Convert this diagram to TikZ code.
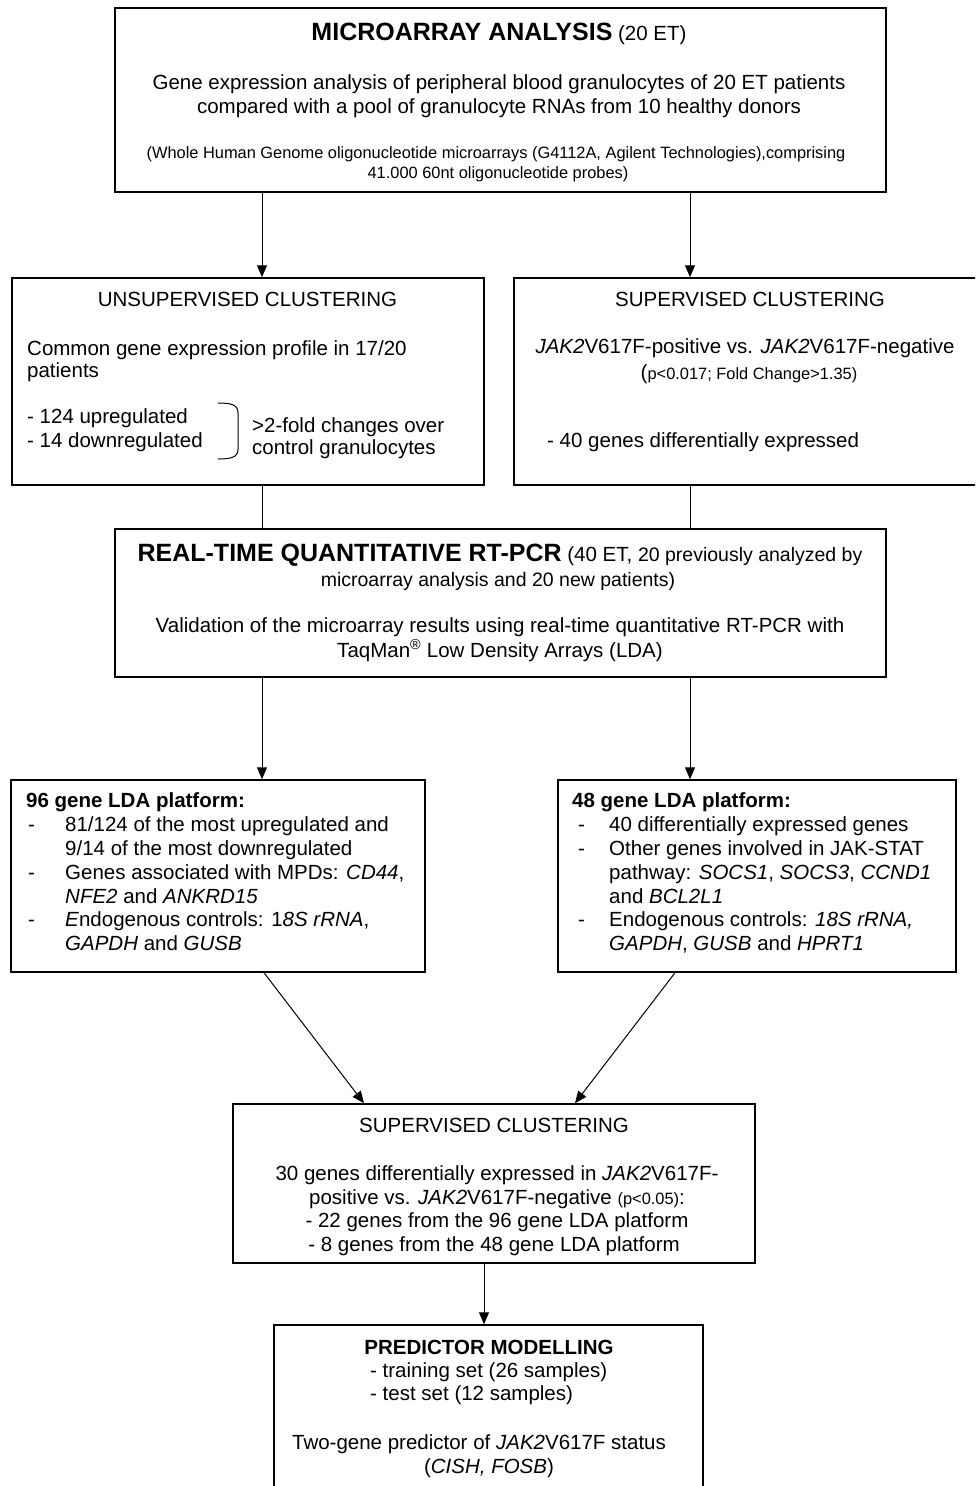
\documentclass[tikz,border=0pt]{standalone}
\usepackage{fontspec}
\setmainfont{Liberation Sans}
\usetikzlibrary{arrows.meta}
\newcommand{\fsbody}{\fontsize{20.5}{24}\selectfont}
\newcommand{\fsbig}{\fontsize{25}{28}\selectfont\bfseries}
\newcommand{\fssmall}{\fontsize{16.4}{19}\selectfont}
\newcommand{\fsmid}{\fontsize{19.5}{23}\selectfont}
\tikzset{
  box/.style={draw, line width=1.5pt, inner sep=0pt, fill=white},
  conn/.style={line width=1pt},
  arr/.style={line width=1pt, -{Triangle[length=12pt,width=10pt]}},
  tc/.style={inner sep=0pt, anchor=mid, font=\fsbody, yshift=-4.5pt},
  tl/.style={inner sep=0pt, anchor=mid west, font=\fsbody, yshift=-4.5pt},
}
\begin{document}
\begin{tikzpicture}[x=1pt,y=-1pt]
\useasboundingbox (0,0) rectangle (975,1486);
\clip (0,0) rectangle (975,1486);
\fill[white] (0,0) rectangle (975,1486);

% boxes
\node[box, minimum width=771pt, minimum height=184pt] (top) at (500.5,100) {};
\node[box, minimum width=472pt, minimum height=207pt] (unsup) at (248,381.5) {};
\node[box, minimum width=476pt, minimum height=207pt] (sup) at (752,381.5) {};
\node[box, minimum width=771pt, minimum height=148pt] (rt) at (500.5,603) {};
\node[box, minimum width=414pt, minimum height=192pt] (lda96) at (218,876) {};
\node[box, minimum width=398pt, minimum height=192pt] (lda48) at (757,876) {};
\node[box, minimum width=522pt, minimum height=159pt] (sup2) at (494,1183.5) {};
\node[box, minimum width=429pt, minimum height=180pt] (pred) at (488.5,1415) {};

% connector positions
\coordinate (xl) at (262,0);
\coordinate (xr) at (690,0);
\coordinate (d1) at (264,0);
\coordinate (d2) at (364,0);
\coordinate (d3) at (675,0);
\coordinate (d4) at (575,0);
\coordinate (xm) at (484,0);

\draw[arr] (top.south -| xl) -- (unsup.north -| xl);
\draw[arr] (top.south -| xr) -- (sup.north -| xr);
\draw[conn] (unsup.south -| xl) -- (rt.north -| xl);
\draw[conn] (sup.south -| xr) -- (rt.north -| xr);
\draw[arr] (rt.south -| xl) -- (lda96.north -| xl);
\draw[arr] (rt.south -| xr) -- (lda48.north -| xr);
\draw[arr] (lda96.south -| d1) -- (sup2.north -| d2);
\draw[arr] (lda48.south -| d3) -- (sup2.north -| d4);
\draw[arr] (sup2.south -| xm) -- (pred.north -| xm);

% top box text
\node[tc] (t1) at (499,33) {{\fsbig MICROARRAY ANALYSIS} (20 ET)};
\node[tc] (t2) at (499,82) {Gene expression analysis of peripheral blood granulocytes of 20 ET patients};
\node[tc] (t3) at (499,106) {compared with a pool of granulocyte RNAs from 10 healthy donors};
\node[tc, font=\fssmall] (t4) at (496,151) {(Whole Human Genome oligonucleotide microarrays (G4112A, Agilent Technologies),comprising};
\node[tc, font=\fssmall] (t5) at (498,171) {41.000 60nt oligonucleotide probes)};

% unsupervised
\node[tc] (u1) at (247.5,299) {UNSUPERVISED CLUSTERING};
\node[tl] (u2) at (27,348) {Common gene expression profile in 17/20};
\node[tl] (u3) at (27,370) {patients};
\node[tl] (u4) at (27,416) {- 124 upregulated};
\node[tl] (u5) at (27,440) {- 14 downregulated};
\draw[line width=1pt] (218,403) .. controls (232,403) and (238,405) .. (238,413) -- (238,449) .. controls (238,457) and (232,459) .. (218,459);
\node[tl] (u6) at (252,425) {>2-fold changes over};
\node[tl] (u7) at (252,447) {control granulocytes};

% supervised
\node[tc] (s1) at (750,299) {SUPERVISED CLUSTERING};
\node[tc] (s2) at (745,346) {\textit{JAK2}V617F-positive vs. \textit{JAK2}V617F-negative};
\node[tc] (s3) at (749,372) {({\fssmall p<0.017; Fold Change>1.35)}};
\node[tl] (s4) at (547,440) {- 40 genes differentially expressed};

% RT-PCR
\node[tc] (r1) at (500,554) {{\fsbig REAL-TIME QUANTITATIVE RT-PCR} (40 ET, {\fsmid 20 previously analyzed by}};
\node[tc, font=\fsmid] (r2) at (498,579) {microarray analysis and 20 new patients)};
\node[tc] (r3) at (500,625) {Validation of the microarray results using real-time quantitative RT-PCR with};
\node[tc] (r4) at (500,650) {TaqMan\textsuperscript{®} Low Density Arrays (LDA)};

% 96 gene
\node[tl] (a0) at (26,800) {\textbf{96 gene LDA platform:}};
\node[tl] (a1d) at (28,824) {-};
\node[tl] (a1) at (65,824) {81/124 of the most upregulated and};
\node[tl] (a2) at (65,848) {9/14 of the most downregulated};
\node[tl] (a3d) at (28,872) {-};
\node[tl] (a3) at (65,872) {Genes associated with MPDs: \textit{CD44},};
\node[tl] (a4) at (65,896) {\textit{NFE2} and \textit{ANKRD15}};
\node[tl] (a5d) at (28,919) {-};
\node[tl] (a5) at (65,919) {\textit{E}ndogenous controls: 1\textit{8S rRNA},};
\node[tl] (a6) at (65,943) {\textit{GAPDH} and \textit{GUSB}};

% 48 gene
\node[tl] (b0) at (572,800) {\textbf{48 gene LDA platform:}};
\node[tl] (b1d) at (578,824) {-};
\node[tl] (b1) at (609,824) {40 differentially expressed genes};
\node[tl] (b2d) at (578,848) {-};
\node[tl] (b2) at (609,848) {Other genes involved in JAK-STAT};
\node[tl] (b3) at (609,872) {pathway: \textit{SOCS1}, \textit{SOCS3}, \textit{CCND1}};
\node[tl] (b4) at (609,896) {and \textit{BCL2L1}};
\node[tl] (b5d) at (578,919) {-};
\node[tl] (b5) at (609,919) {Endogenous controls: \textit{18S rRNA,}};
\node[tl] (b6) at (609,943) {\textit{GAPDH}, \textit{GUSB} and \textit{HPRT1}};

% supervised 2
\node[tc] (c1) at (494,1125) {SUPERVISED CLUSTERING};
\node[tc] (c2) at (497,1173) {30 genes differentially expressed in \textit{JAK2}V617F-};
\node[tc] (c3) at (497,1197) {positive vs. \textit{JAK2}V617F-negative {\fssmall (p<0.05)}:};
\node[tc] (c4) at (497,1220) {- 22 genes from the 96 gene LDA platform};
\node[tc] (c5) at (494,1244) {- 8 genes from the 48 gene LDA platform};

% predictor
\node[tc] (p1) at (489,1347) {\textbf{PREDICTOR MODELLING}};
\node[tl] (p2) at (370,1370) {- training set (26 samples)};
\node[tl] (p3) at (370,1393) {- test set (12 samples)};
\node[tc] (p4) at (479,1442) {Two-gene predictor of \textit{JAK2}V617F status};
\node[tc] (p5) at (489,1466) {(\textit{CISH, FOSB})};
\end{tikzpicture}
\end{document}
